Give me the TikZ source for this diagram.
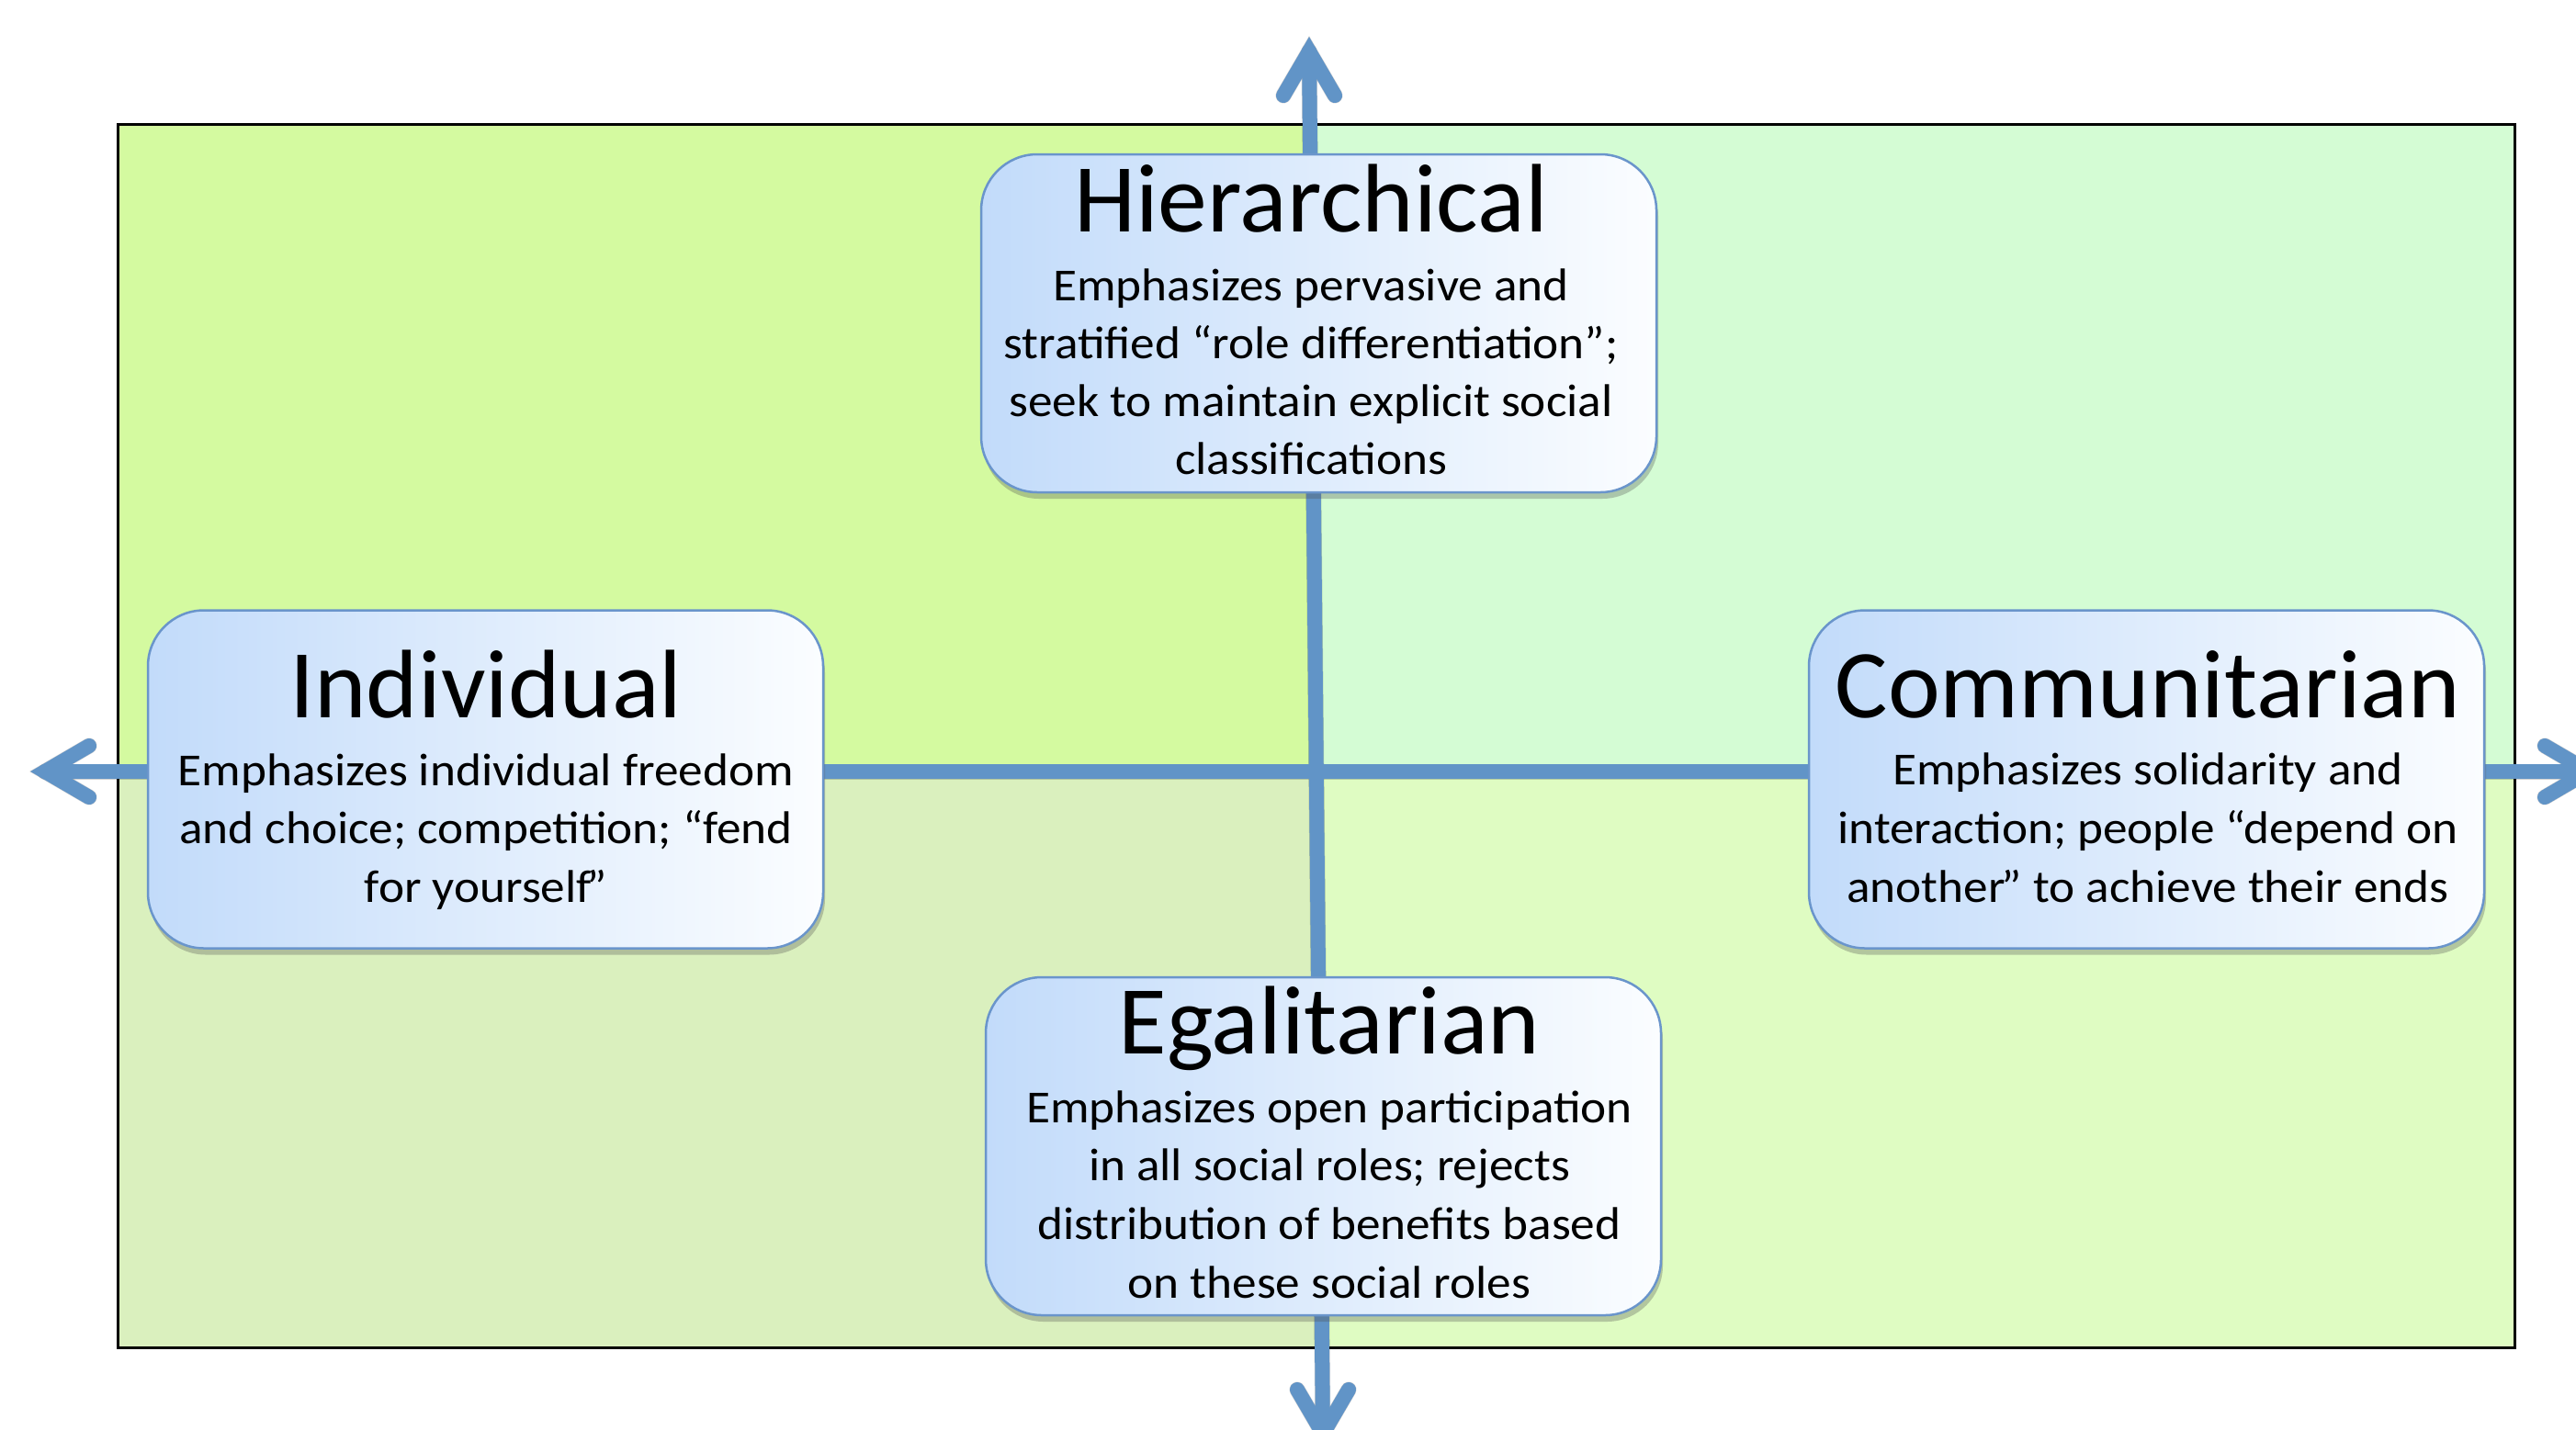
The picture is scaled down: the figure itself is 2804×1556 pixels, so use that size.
\documentclass[tikz,border=0pt]{standalone}
\usepackage{fontspec}
\setmainfont{Carlito}
\newfontfamily\bodyfam[FakeStretch=1.065]{Carlito}
\newfontfamily\titlefam[FakeStretch=1.015]{Carlito}
\usetikzlibrary{shadows,calc}
\definecolor{axisblue}{HTML}{6194C7}
\definecolor{qTL}{HTML}{D4FAA0}
\definecolor{qTR}{HTML}{D4FCD4}
\definecolor{qBL}{HTML}{DAF0BE}
\definecolor{qBR}{HTML}{DFFCC2}
\definecolor{boxleft}{HTML}{C2DBFA}
\definecolor{boxright}{HTML}{FBFDFF}
\definecolor{boxborder}{HTML}{6A95CB}
\begin{document}
\begin{tikzpicture}[x=1pt,y=-1pt,
  axis/.style={draw=axisblue,line width=16pt,line cap=round,line join=miter},
  axisshadow/.style={draw=black,opacity=0.18,line width=17pt,line cap=round,line join=miter},
  box/.style={draw=boxborder,line width=2.5pt,rounded corners=61pt,left color=boxleft,right color=boxright,
    minimum width=735pt,minimum height=368pt,inner sep=0pt,
    drop shadow={shadow xshift=2pt,shadow yshift=-7pt,opacity=0.3,fill=black!70}},
  titletext/.style={anchor=base,inner sep=0pt,font=\titlefam\fontsize{106pt}{120pt}\selectfont},
  bodytext/.style={anchor=base,inner sep=0pt,font=\bodyfam\fontsize{50pt}{60pt}\selectfont}]
\useasboundingbox (0,0) rectangle (2804,1556);
% quadrants
\fill[qTL] (128,135) rectangle (1433,840);
\fill[qTR] (1433,135) rectangle (2737,840);
\fill[qBL] (128,840) rectangle (1437,1467);
\fill[qBR] (1437,840) rectangle (2737,1467);
\draw[line width=3pt,black] (128,135) rectangle (2737,1467);
% axis end points
\coordinate (top) at (1425,56);
\coordinate (bot) at (1440,1561);
\coordinate (lft) at (49,840);
\coordinate (rgt) at (2818,840);
\coordinate (topA) at (1397,104); \coordinate (topB) at (1453,104);
\coordinate (botA) at (1412,1513); \coordinate (botB) at (1468,1513);
\coordinate (lftA) at (97,812); \coordinate (lftB) at (97,868);
\coordinate (rgtA) at (2770,812); \coordinate (rgtB) at (2770,868);
% shadows of axes
\begin{scope}[shift={(3pt,-5pt)}]
\draw[axisshadow] (top) -- (bot);
\draw[axisshadow] (lft) -- (rgt);
\draw[axisshadow] (topA) -- (top) -- (topB);
\draw[axisshadow] (botA) -- (bot) -- (botB);
\draw[axisshadow] (lftA) -- (lft) -- (lftB);
\draw[axisshadow] (rgtA) -- (rgt) -- (rgtB);
\end{scope}
% axes
\draw[axis] (top) -- (bot);
\draw[axis] (lft) -- (rgt);
\draw[axis] (topA) -- (top) -- (topB);
\draw[axis] (botA) -- (bot) -- (botB);
\draw[axis] (lftA) -- (lft) -- (lftB);
\draw[axis] (rgtA) -- (rgt) -- (rgtB);
% boxes
\node[box] (hier) at (1435.5,352) {};
\node[box] (indiv) at (528.5,848.5) {};
\node[box] (comm) at (2336.5,848.5) {};
\node[box] (egal) at (1440.5,1248) {};
% texts
\node[titletext] (hierT) at (1427,252) {Hierarchical};
\foreach \t [count=\i] in {{Emphasizes pervasive and},{stratified “role differentiation”;},{seek to maintain explicit social},{classifications}}
  \node[bodytext] (hierB\i) at (1427,{327+63.3*(\i-1)}) {\t};
\node[titletext] (indivT) at (529,781) {Individual};
\foreach \t [count=\i] in {{Emphasizes individual freedom},{and choice; competition; “fend},{for yourself\kern-5pt”}}
  \node[bodytext] (indivB\i) at (529,{855+63.5*(\i-1)}) {\t};
\node[titletext] (commT) at (2338,781) {Communitarian};
\foreach \t [count=\i] in {{Emphasizes solidarity and},{interaction; people “depend on},{another\kern-4pt” to achieve their ends}}
  \node[bodytext] (commB\i) at (2338,{854+64*(\i-1)}) {\t};
\node[titletext] (egalT) at (1447,1147) {Egalitarian};
\foreach \t [count=\i] in {{Emphasizes open participation},{in all social roles; rejects},{distribution of benefits based},{on these social roles}}
  \node[bodytext] (egalB\i) at (1447,{1222+63.7*(\i-1)}) {\t};
\end{tikzpicture}
\end{document}
